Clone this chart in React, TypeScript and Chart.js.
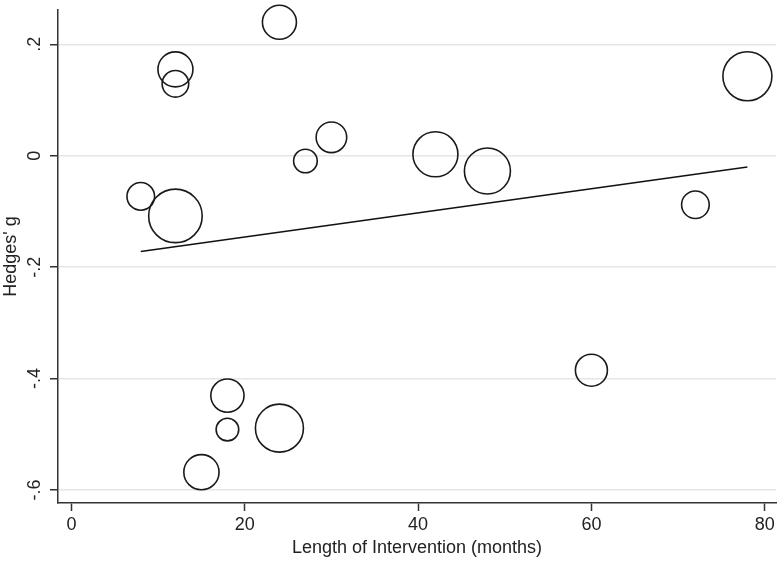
import React, { useEffect, useRef } from "react";
import { Chart, registerables } from "chart.js";

Chart.register(...registerables);

// Study-level data: intervention length (months), effect size, meta-analytic weight
const months = [24, 12, 12, 30, 27, 8, 12, 78, 42, 48, 72, 60, 18, 18, 24, 15];
const hedgesG = [0.2395, 0.155, 0.129, 0.033, -0.0095, -0.073, -0.108, 0.1426, 0.0025, -0.0274, -0.088, -0.385, -0.4305, -0.4915, -0.489, -0.568];
const weights = [4.52, 4.79, 2.76, 3.66, 2.18, 2.98, 11.2, 9.38, 7.91, 8.27, 2.98, 4.0, 4.31, 2.0, 9.0, 4.84];

// Fitted meta-regression line endpoints
const fitX = [8, 78];
const fitY = [-0.172, -0.0203];

// Axis ticks
const xTicks = [0, 20, 40, 60, 80];
const yTicks = [-0.6, -0.4, -0.2, 0, 0.2];
const yTickLabels = ["-.6", "-.4", "-.2", "0", ".2"];

const FONT = "'Liberation Sans', Arial, Helvetica, sans-serif";
const INK = "#222222";

export default function App() {
  const ref = useRef<HTMLCanvasElement | null>(null);

  useEffect(() => {
    const canvas = ref.current;
    if (!canvas) return;
    const bubbleScale = 8;
    const chart = new Chart(canvas, {
      type: "bubble",
      data: {
        datasets: [
          {
            type: "bubble",
            data: months.map((m, i) => ({ x: m, y: hedgesG[i], r: bubbleScale * Math.sqrt(weights[i]) })),
            backgroundColor: "rgba(0,0,0,0)",
            borderColor: "#1a1a1a",
            borderWidth: 1.6,
            clip: false,
          } as any,
          {
            type: "line",
            data: fitX.map((x, i) => ({ x, y: fitY[i] })),
            borderColor: "#111111",
            borderWidth: 1.6,
            pointRadius: 0,
            fill: false,
            tension: 0,
          } as any,
        ],
      },
      options: {
        animation: false,
        responsive: false,
        devicePixelRatio: 1,
        events: [],
        layout: { autoPadding: false, padding: { top: 10, right: 4, left: 0, bottom: 0 } },
        plugins: { legend: { display: false }, tooltip: { enabled: false } },
        scales: {
          x: {
            type: "linear",
            position: "bottom",
            min: -1.55,
            max: 81.3,
            afterBuildTicks: (scale: any) => {
              scale.ticks = xTicks.map((v) => ({ value: v }));
            },
            afterFit: (scale: any) => {
              scale.height = 59;
              scale.paddingLeft = 0;
              scale.paddingRight = 0;
              scale.paddingTop = 0;
              scale.paddingBottom = 0;
            },
            ticks: {
              color: INK,
              font: { family: FONT, size: 18 },
              padding: 3,
              maxRotation: 0,
              minRotation: 0,
              autoSkip: false,
              callback: (v: any) => String(v),
            },
            grid: {
              drawOnChartArea: false,
              drawTicks: true,
              tickLength: 8,
              tickColor: "#333333",
              tickWidth: 1.5,
            },
            border: { display: true, color: "#333333", width: 1.5 },
            title: {
              display: true,
              text: "Length of Intervention (months)",
              color: INK,
              font: { family: FONT, size: 18 },
              padding: { top: 0, bottom: 3 },
            },
          },
          y: {
            type: "linear",
            position: "left",
            min: -0.6233,
            max: 0.2615,
            afterBuildTicks: (scale: any) => {
              scale.ticks = yTicks.map((v) => ({ value: v }));
            },
            afterFit: (scale: any) => {
              scale.width = 58;
              scale.paddingLeft = 0;
              scale.paddingRight = 0;
              scale.paddingTop = 0;
              scale.paddingBottom = 0;
            },
            ticks: {
              color: INK,
              font: { family: FONT, size: 18 },
              padding: 4,
              minRotation: 90,
              maxRotation: 90,
              crossAlign: "center",
              autoSkip: false,
              callback: (v: any) => {
                const idx = yTicks.findIndex((t) => Math.abs(t - Number(v)) < 1e-9);
                return idx >= 0 ? yTickLabels[idx] : "";
              },
            },
            grid: {
              color: "#e6e6e6",
              lineWidth: 1.5,
              drawTicks: true,
              tickLength: 8,
              tickColor: "#333333",
              tickWidth: 1.5,
            },
            border: { display: true, color: "#333333", width: 1.5 },
            title: {
              display: true,
              text: "Hedges' g",
              color: INK,
              font: { family: FONT, size: 18 },
              padding: { top: 0, bottom: 0 },
            },
          },
        },
      } as any,
    });
    return () => chart.destroy();
  }, []);

  return (
    <div style={{ position: "fixed", left: 0, top: 0, width: 780, height: 562, background: "#ffffff" }}>
      <canvas ref={ref} width={780} height={562} style={{ display: "block", width: 780, height: 562 }} />
    </div>
  );
}
